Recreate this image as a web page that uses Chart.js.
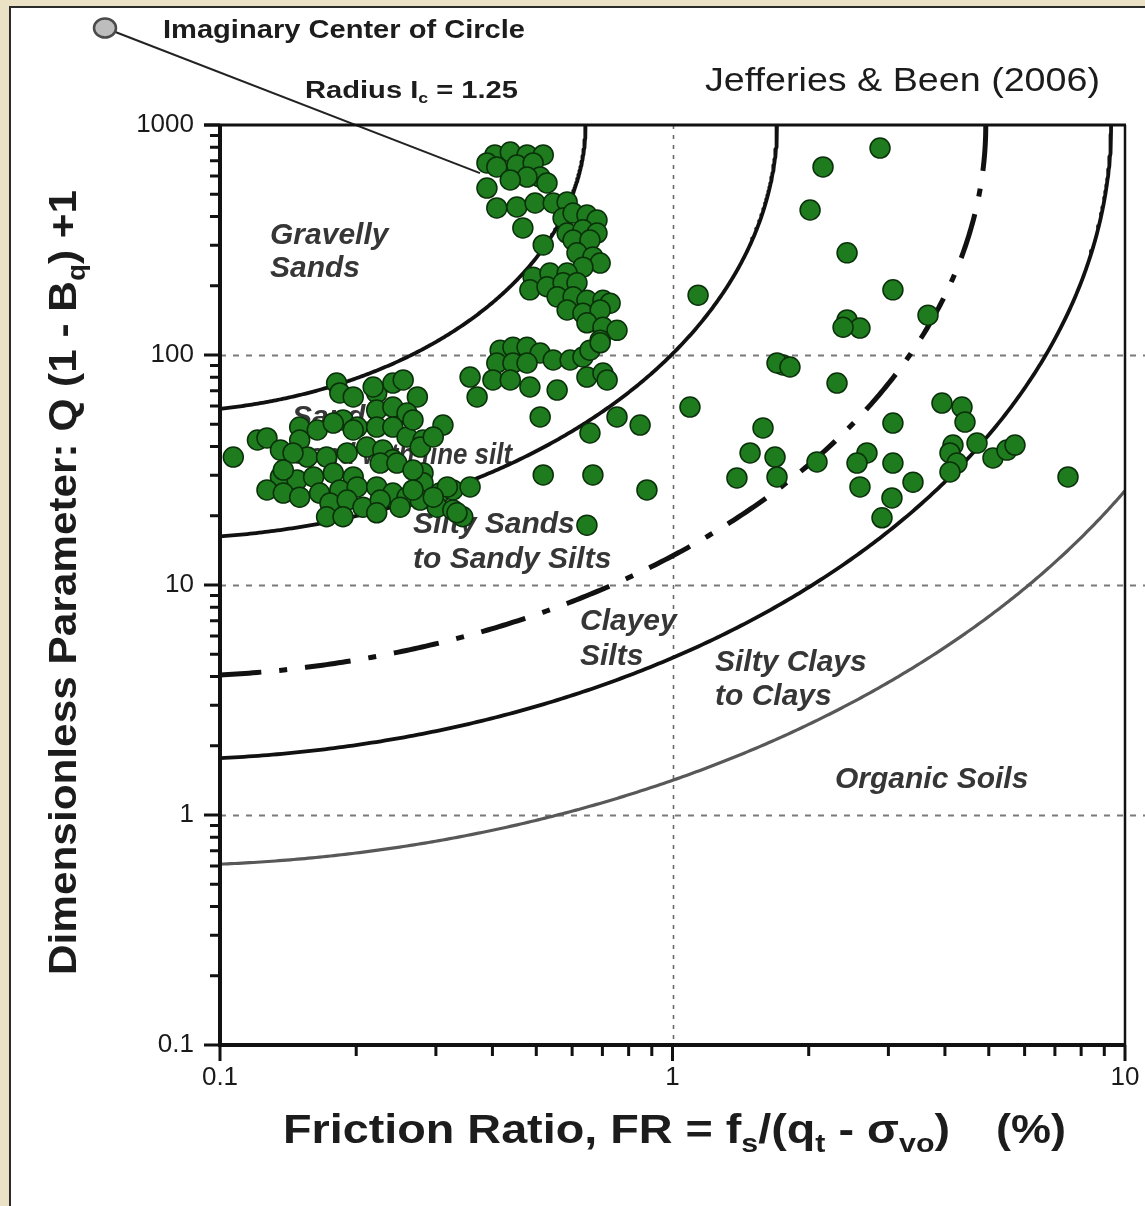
<!DOCTYPE html>
<html>
<head>
<meta charset="utf-8">
<title>Jefferies &amp; Been (2006) soil behaviour chart</title>
<script src="https://cdn.jsdelivr.net/npm/chart.js@4.4.1/dist/chart.umd.min.js"></script>
<style>
  html, body { margin: 0; padding: 0; background: #ebe1c4; }
  canvas { display: block; }
</style>
</head>
<body>
<canvas id="chart" width="1145" height="1206"></canvas>
<script>
// ---------------------------------------------------------------------------
// Data
// ---------------------------------------------------------------------------

// Friction ratio FR (%) of each CPT record
const frictionRatio = [
  // upper column (dense sands)
  0.405, 0.438, 0.477, 0.518, 0.389, 0.409, 0.453, 0.492, 0.510, 0.477,
  0.438, 0.389, 0.528, 0.409, 0.453, 0.497, 0.545, 0.585, 0.467, 0.518,
  0.573, 0.603, 0.647, 0.681, 0.585, 0.634, 0.681, 0.603, 0.657, 0.615,
  0.667, 0.692, 0.634, 0.492, 0.536, 0.585, 0.484, 0.528, 0.573, 0.615,
  0.556, 0.603, 0.647, 0.702, 0.728, 0.585, 0.634, 0.692, 0.647, 0.702,
  0.754, 0.692,
  0.416, 0.444, 0.477, 0.510, 0.545, 0.594, 0.634, 0.657, 0.409, 0.444,
  0.477, 0.357, 0.401, 0.438, 0.484, 0.556, 0.647, 0.702, 0.717, 0.370,
  0.692, 0.510, 0.754, 0.848, 0.657, 0.518, 0.667, 0.878, 0.647,
  // low friction cluster
  0.107, 0.121, 0.127, 0.181, 0.184, 0.197, 0.222, 0.241, 0.254, 0.273,
  0.222, 0.241, 0.259, 0.311, 0.150, 0.150, 0.187, 0.201, 0.222, 0.241,
  0.259, 0.281, 0.136, 0.156, 0.172, 0.191, 0.211, 0.229, 0.241, 0.277,
  0.136, 0.148, 0.161, 0.178, 0.197, 0.226, 0.246, 0.281, 0.127, 0.138,
  0.150, 0.166, 0.184, 0.201, 0.222, 0.241, 0.259, 0.281, 0.306, 0.327,
  0.357, 0.175, 0.191, 0.207, 0.226, 0.250, 0.277, 0.302, 0.327, 0.344,
  0.172, 0.187, 0.222, 0.164, 0.178, 0.197, 0.296, 0.145, 0.267, 0.318,
  0.267, 0.218, 0.138, 0.267, 0.296, 0.334,
  // high friction records
  2.875, 2.151, 2.014, 2.431, 3.070, 1.139, 2.431, 2.596, 2.382, 3.670,
  1.755, 1.702, 1.818, 2.310, 1.093, 1.585, 3.940, 4.363, 4.430, 3.070,
  1.484, 1.685, 1.702, 1.388, 2.086, 2.690, 2.557, 3.070, 2.596, 3.400,
  3.055, 2.904, 4.167, 4.104, 4.709, 4.253, 4.104, 5.108, 5.484, 5.713,
  7.482
];

// Dimensionless parameter Q(1 - Bq) + 1 of the same records
const qParam = [
  741, 763, 741, 741, 684, 657, 670, 684, 594, 594,
  577, 532, 560, 436, 440, 458, 458, 463, 357, 301,
  394, 414, 406, 386, 339, 350, 339, 316, 316, 278,
  267, 251, 241, 218, 227, 227, 192, 198, 206, 206,
  179, 179, 173, 173, 168, 157, 152, 157, 138, 132,
  128, 116,
  105, 108, 108, 102, 95.1, 95.1, 98.0, 105, 92.3, 92.3,
  92.3, 80.2, 77.9, 77.9, 72.6, 70.4, 80.2, 83.5, 77.9, 65.7,
  113, 53.8, 53.8, 49.6, 45.8, 30.1, 30.1, 25.9, 18.2,
  36.0, 42.7, 43.6, 75.5, 68.4, 65.7, 68.4, 75.5, 77.9, 65.7,
  57.7, 59.4, 55.9, 49.6, 48.6, 42.7, 52.2, 48.6, 48.6, 48.6,
  44.0, 42.7, 38.6, 36.0, 36.0, 37.5, 39.8, 38.6, 35.0, 39.8,
  29.5, 28.6, 29.5, 30.7, 29.5, 33.9, 33.9, 30.7, 25.9, 25.1,
  24.1, 25.1, 25.9, 26.7, 26.7, 25.1, 24.1, 27.8, 25.1, 25.9,
  26.7, 22.7, 23.4, 21.8, 23.4, 21.8, 23.4, 21.8, 21.2, 19.8,
  19.8, 19.8, 20.6, 47.2, 50.6, 47.2, 44.0, 37.5, 31.6, 26.7,
  52.2, 72.6, 31.6, 25.9, 24.1, 20.6,
  794, 657, 427, 278, 192, 182, 142, 131, 132, 149,
  90.5, 92.3, 88.7, 75.5, 59.4, 48.2, 61.8, 59.4, 51.1, 50.6,
  37.5, 36.0, 29.5, 29.2, 34.3, 37.5, 33.9, 33.9, 26.7, 28.0,
  23.9, 19.6, 40.6, 37.5, 41.4, 33.9, 31.0, 35.7, 38.6, 40.6,
  29.5
];

// Soil behaviour boundaries: circles of constant Ic about the imaginary centre
const boundaryIc = [1.25, 1.80, 2.40, 2.76, 3.22];

// Axis ranges and tick labels
const xRange = [0.1, 10];
const yRange = [0.1, 1000];
const xMajorTicks = [0.1, 1, 10];
const xTickLabels = ['0.1', '1', '10'];
const yMajorTicks = [0.1, 1, 10, 100, 1000];
const yTickLabels = ['0.1', '1', '10', '100', '1000'];
const xGridValues = [1];
const yGridValues = [1, 10, 100];

// Imaginary centre marker and its pointer, in data units
const centreMarker = { x: 0.0557, y: 2640 };
const pointerEnd = { x: 0.3755, y: 618 };

// ---------------------------------------------------------------------------
// Styling / layout
// ---------------------------------------------------------------------------
const FONT = '"Liberation Sans", Arial, Helvetica, sans-serif';
Chart.defaults.font.family = FONT;

const boundaryStyles = [
  { color: '#111111', width: 3.8, dash: [] },
  { color: '#111111', width: 3.8, dash: [] },
  { color: '#111111', width: 5, dash: [46, 18, 8, 18] },
  { color: '#111111', width: 3.8, dash: [] },
  { color: '#585858', width: 3.2, dash: [] }
];

// zone names (pixel layout: left edge, vertical centre)
const zoneLabels = [
  { text: 'Gravelly', x: 270, y: 236 },
  { text: 'Sands', x: 270, y: 269 },
  { text: 'Sands to', x: 292, y: 418 },
  { text: 'Sand with fine silt', x: 292, y: 456, width: 220 },
  { text: 'Silty Sands', x: 413, y: 525 },
  { text: 'to Sandy Silts', x: 413, y: 560 },
  { text: 'Clayey', x: 580, y: 622 },
  { text: 'Silts', x: 580, y: 657 },
  { text: 'Silty Clays', x: 715, y: 663 },
  { text: 'to Clays', x: 715, y: 697 },
  { text: 'Organic Soils', x: 835, y: 780 }
];

// ---------------------------------------------------------------------------
// Helpers
// ---------------------------------------------------------------------------
function minorTicks(lo, hi) {
  const out = [];
  for (let d = lo; d < hi * 0.999; d *= 10) {
    for (let k = 1; k <= 9; k++) out.push(d * k);
  }
  out.push(hi);
  return out;
}

function labelFor(value, majors, labels) {
  const i = majors.findIndex(m => Math.abs(m - value) / m < 1e-6);
  return i >= 0 ? labels[i] : '';
}

// Ic = sqrt((3 - log Qp)^2 + (1.5 + 1.3 log FR)^2), lower arc inside the plot
function boundaryCurve(ic) {
  const uLeft = 1.5 + 1.3 * Math.log10(xRange[0]);
  const uRight = Math.min(ic, 1.5 + 1.3 * Math.log10(xRange[1]));
  const a0 = Math.acos(uRight / ic);
  const a1 = Math.acos(uLeft / ic);
  const pts = [];
  const n = 300;
  for (let i = 0; i <= n; i++) {
    const a = a0 + (a1 - a0) * i / n;
    const u = ic * Math.cos(a);
    const v = ic * Math.sin(a);
    pts.push({ x: Math.pow(10, (u - 1.5) / 1.3), y: Math.pow(10, 3 - v) });
  }
  return pts;
}

// draws a row of text runs (with optional subscripts), fitted to a width
function drawRuns(ctx, runs, x, y, width) {
  let total = 0;
  for (const r of runs) { ctx.font = r.font; total += ctx.measureText(r.t).width; }
  const sx = width ? width / total : 1;
  ctx.save();
  ctx.translate(x, y);
  ctx.scale(sx, 1);
  let cx = 0;
  for (const r of runs) {
    ctx.font = r.font;
    ctx.fillText(r.t, cx, r.dy || 0);
    cx += ctx.measureText(r.t).width;
  }
  ctx.restore();
}

// ---------------------------------------------------------------------------
// Plugins
// ---------------------------------------------------------------------------
const framePlugin = {
  id: 'frame',
  beforeDraw(chart) {
    const { ctx, width, height } = chart;
    ctx.save();
    ctx.fillStyle = '#ebe1c4';
    ctx.fillRect(0, 0, width, height);
    ctx.fillStyle = '#ffffff';
    ctx.fillRect(11, 8, width - 11, height - 8);
    ctx.strokeStyle = '#2b2b2b';
    ctx.lineWidth = 2;
    ctx.beginPath();
    ctx.moveTo(10, height);
    ctx.lineTo(10, 7);
    ctx.lineTo(width, 7);
    ctx.stroke();
    ctx.restore();
  }
};

const underlayPlugin = {
  id: 'underlay',
  beforeDatasetsDraw(chart) {
    const { ctx, chartArea: a, scales: { x, y } } = chart;
    ctx.save();
    // horizontal reference lines
    ctx.strokeStyle = '#7a7a7a';
    ctx.lineWidth = 2;
    ctx.setLineDash([6, 7]);
    for (const v of yGridValues) {
      const py = Math.round(y.getPixelForValue(v)) + 0.5;
      ctx.beginPath();
      ctx.moveTo(a.left, py);
      ctx.lineTo(chart.width, py);
      ctx.stroke();
    }
    // vertical reference line
    ctx.strokeStyle = '#6a6a6a';
    ctx.lineWidth = 1.6;
    ctx.setLineDash([4, 6]);
    for (const v of xGridValues) {
      const px = Math.round(x.getPixelForValue(v)) + 0.5;
      ctx.beginPath();
      ctx.moveTo(px, a.top);
      ctx.lineTo(px, a.bottom);
      ctx.stroke();
    }
    ctx.setLineDash([]);

    // pointer from the imaginary centre into the data
    ctx.strokeStyle = '#222222';
    ctx.lineWidth = 2;
    ctx.beginPath();
    ctx.moveTo(x.getPixelForValue(centreMarker.x), y.getPixelForValue(centreMarker.y));
    ctx.lineTo(x.getPixelForValue(pointerEnd.x), y.getPixelForValue(pointerEnd.y));
    ctx.stroke();

    // zone names
    ctx.fillStyle = '#363636';
    ctx.textBaseline = 'middle';
    for (const z of zoneLabels) {
      drawRuns(ctx, [{ t: z.text, font: 'italic bold 30px ' + FONT }], z.x, z.y, z.width);
    }
    ctx.restore();
  }
};

const overlayPlugin = {
  id: 'overlay',
  afterDatasetsDraw(chart) {
    const { ctx, chartArea: a, scales: { x, y } } = chart;
    ctx.save();
    ctx.strokeStyle = '#111111';
    ctx.lineCap = 'butt';

    // frame of the plot
    ctx.lineWidth = 3;
    ctx.beginPath();
    ctx.moveTo(a.left - 16, a.top);
    ctx.lineTo(a.right + 1, a.top);
    ctx.stroke();
    ctx.lineWidth = 2.5;
    ctx.beginPath();
    ctx.moveTo(a.right, a.top);
    ctx.lineTo(a.right, a.bottom);
    ctx.stroke();
    ctx.lineWidth = 4;
    ctx.beginPath();
    ctx.moveTo(a.left, a.top);
    ctx.lineTo(a.left, a.bottom + 2);
    ctx.moveTo(a.left - 2, a.bottom);
    ctx.lineTo(a.right + 1, a.bottom);
    ctx.stroke();

    // tick marks
    ctx.lineWidth = 3;
    ctx.beginPath();
    for (const v of minorTicks(yRange[0], yRange[1])) {
      const py = y.getPixelForValue(v);
      const len = labelFor(v, yMajorTicks, yTickLabels) ? 16 : 10;
      ctx.moveTo(a.left, py);
      ctx.lineTo(a.left - len, py);
    }
    for (const v of minorTicks(xRange[0], xRange[1])) {
      const px = x.getPixelForValue(v);
      const len = labelFor(v, xMajorTicks, xTickLabels) ? 16 : 11;
      ctx.moveTo(px, a.bottom);
      ctx.lineTo(px, a.bottom + len);
    }
    ctx.stroke();
    ctx.restore();
  },
  afterDraw(chart) {
    const { ctx, scales: { x, y } } = chart;
    ctx.save();

    // imaginary centre marker
    ctx.fillStyle = '#bdbdbd';
    ctx.strokeStyle = '#4a4a4a';
    ctx.lineWidth = 2.5;
    ctx.beginPath();
    ctx.ellipse(x.getPixelForValue(centreMarker.x), y.getPixelForValue(centreMarker.y), 11, 9.5, 0, 0, Math.PI * 2);
    ctx.fill();
    ctx.stroke();

    ctx.fillStyle = '#1c1c1c';
    ctx.textBaseline = 'alphabetic';
    drawRuns(ctx, [{ t: 'Imaginary Center of Circle', font: 'bold 26px ' + FONT }], 163, 38, 362);
    drawRuns(ctx, [
      { t: 'Radius I', font: 'bold 23px ' + FONT },
      { t: 'c', font: 'bold 14px ' + FONT, dy: 5 },
      { t: ' = 1.25', font: 'bold 23px ' + FONT }
    ], 305, 98, 213);
    drawRuns(ctx, [{ t: 'Jefferies & Been (2006)', font: '34px ' + FONT }], 705, 91, 395);

    // x-axis title
    const big = 'bold 40px ' + FONT;
    const sub = 'bold 26px ' + FONT;
    drawRuns(ctx, [
      { t: 'Friction Ratio, FR = f', font: big },
      { t: 's', font: sub, dy: 9 },
      { t: '/(q', font: big },
      { t: 't', font: sub, dy: 9 },
      { t: ' - \u03C3', font: big },
      { t: 'vo', font: sub, dy: 9 },
      { t: ')', font: big }
    ], 283, 1143, 667);
    drawRuns(ctx, [{ t: '(%)', font: big }], 996, 1143, 70);

    // y-axis title
    ctx.translate(76, 975);
    ctx.rotate(-Math.PI / 2);
    drawRuns(ctx, [
      { t: 'Dimensionless Parameter: Q (1 - B', font: 'bold 38px ' + FONT },
      { t: 'q', font: 'bold 25px ' + FONT, dy: 9 },
      { t: ') +1', font: 'bold 38px ' + FONT }
    ], 0, 0, 785);
    ctx.restore();
  }
};

// ---------------------------------------------------------------------------
// Chart
// ---------------------------------------------------------------------------
const records = frictionRatio.map((fr, i) => ({ x: fr, y: qParam[i] }));

const datasets = [
  {
    label: 'CPT data',
    data: records,
    pointStyle: 'circle',
    pointRadius: 10,
    pointBackgroundColor: '#1e7b1e',
    pointBorderColor: '#0a300a',
    pointBorderWidth: 1.5,
    showLine: false
  }
].concat(boundaryIc.map((ic, i) => ({
  label: 'Ic = ' + ic.toFixed(2),
  data: boundaryCurve(ic),
  showLine: true,
  pointRadius: 0,
  borderColor: boundaryStyles[i].color,
  borderWidth: boundaryStyles[i].width,
  borderDash: boundaryStyles[i].dash,
  borderCapStyle: 'butt',
  borderJoinStyle: 'round',
  tension: 0,
  fill: false
})));

new Chart(document.getElementById('chart'), {
  type: 'scatter',
  data: { datasets },
  options: {
    responsive: false,
    animation: false,
    devicePixelRatio: 1,
    events: [],
    layout: { padding: { top: 125, right: 20, left: 0, bottom: 0 } },
    plugins: { legend: { display: false }, tooltip: { enabled: false } },
    scales: {
      x: {
        type: 'logarithmic',
        position: 'bottom',
        min: xRange[0],
        max: xRange[1],
        afterBuildTicks: s => { s.ticks = minorTicks(xRange[0], xRange[1]).map(v => ({ value: v })); },
        afterFit: s => { s.height = 161; s.paddingLeft = 0; s.paddingRight = 0; },
        grid: { display: false, drawTicks: false },
        border: { display: false },
        ticks: {
          autoSkip: false,
          maxRotation: 0,
          padding: 17,
          color: '#1a1a1a',
          font: { size: 26 },
          callback: v => labelFor(v, xMajorTicks, xTickLabels)
        }
      },
      y: {
        type: 'logarithmic',
        position: 'left',
        min: yRange[0],
        max: yRange[1],
        afterBuildTicks: s => { s.ticks = minorTicks(yRange[0], yRange[1]).map(v => ({ value: v })); },
        afterFit: s => { s.width = 220; s.paddingTop = 0; s.paddingBottom = 0; },
        grid: { display: false, drawTicks: false },
        border: { display: false },
        ticks: {
          autoSkip: false,
          padding: 26,
          color: '#1a1a1a',
          font: { size: 26 },
          callback: v => labelFor(v, yMajorTicks, yTickLabels)
        }
      }
    }
  },
  plugins: [framePlugin, underlayPlugin, overlayPlugin]
});
</script>
</body>
</html>
